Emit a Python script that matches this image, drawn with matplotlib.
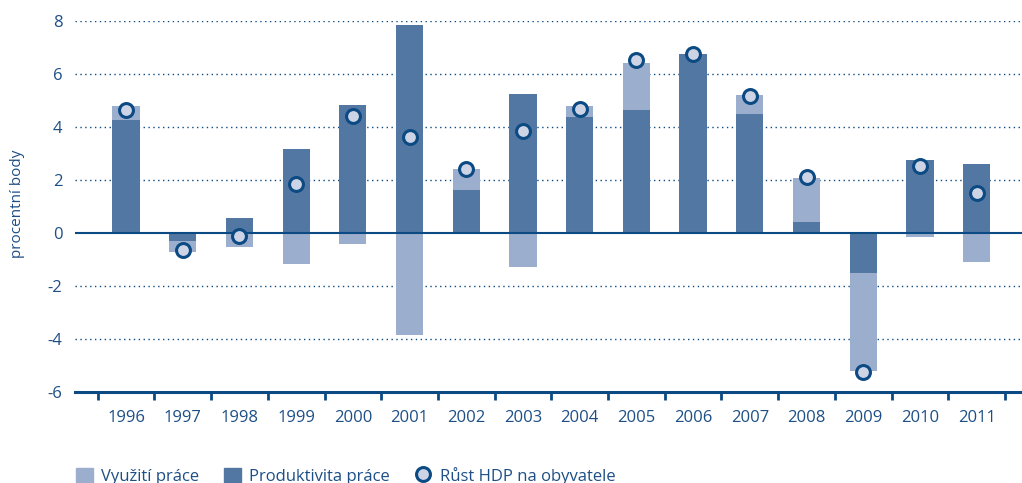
import matplotlib.pyplot as plt
import numpy as np
from matplotlib.patches import Patch
from matplotlib.lines import Line2D

plt.rcParams['font.family'] = ['Open Sans', 'DejaVu Sans']

years = ["1996", "1997", "1998", "1999", "2000", "2001", "2002", "2003",
         "2004", "2005", "2006", "2007", "2008", "2009", "2010", "2011"]
produktivita = [4.26, -0.32, 0.54, 3.15, 4.82, 7.86, 1.61, 5.23,
                4.38, 4.64, 6.76, 4.49, 0.40, -1.53, 2.75, 2.59]
vyuziti = [0.53, -0.41, -0.54, -1.18, -0.42, -3.88, 0.79, -1.29,
           0.41, 1.78, 0.0, 0.72, 1.66, -3.70, -0.16, -1.12]
hdp = [4.64, -0.64, -0.13, 1.85, 4.40, 3.63, 2.42, 3.86,
       4.68, 6.52, 6.76, 5.18, 2.11, -5.26, 2.52, 1.51]

light = "#9caecd"
dark = "#5377a3"
dot_fill = "#ccd4e5"
navy = "#0b4a82"
text_c = "#1d4f86"

x = np.arange(len(years))
prod = np.array(produktivita)
vyu = np.array(vyuziti)
# utilization stacks on productivity when both have the same sign
bottom = np.where(np.sign(prod) == np.sign(vyu), prod, 0)

fig = plt.figure(figsize=(10.22, 4.83), dpi=100)
ax = fig.add_axes([75/1022, 1 - 391.5/483, 1 - 75/1022, (391.5 - 21)/483])

ax.bar(x, prod, width=0.48, color=dark, zorder=2)
ax.bar(x, vyu, width=0.48, bottom=bottom, color=light, zorder=2)
ax.plot(x, hdp, "o", markersize=10, markerfacecolor=dot_fill,
        markeredgecolor=navy, markeredgewidth=2.2, zorder=4)

ax.set_xlim(-0.9, 15.8)
ax.set_ylim(-6, 8)
ax.set_yticks(np.arange(-6, 9, 2))
ax.set_yticklabels([str(v) for v in range(-6, 9, 2)])
for v in [-4, -2, 2, 4, 6, 8]:
    ax.axhline(v, color=navy, linestyle=(0, (1, 2.5)), linewidth=1.0, zorder=1)
ax.axhline(0, color=navy, linewidth=1.5, zorder=3)

ax.set_xticks(x)
ax.set_xticklabels(years)
ax.set_xticks(np.arange(-0.5, 16, 1), minor=True)
ax.tick_params(axis="x", which="major", length=0, pad=13, labelsize=12, labelcolor=text_c)
ax.tick_params(axis="x", which="minor", length=6, width=2, color=navy, direction="out")
ax.tick_params(axis="y", length=0, pad=9, labelsize=12, labelcolor=text_c)

for s in ["top", "right", "left"]:
    ax.spines[s].set_visible(False)
ax.spines["bottom"].set_color(navy)
ax.spines["bottom"].set_linewidth(2.2)
ax.spines["bottom"].set_zorder(5)

fig.text(18/1022, 1 - 204/483, "procentní body", rotation=90, ha="center", va="center",
         fontsize=11, color=text_c)

handles = [Patch(color=light, label="Využití práce"),
           Patch(color=dark, label="Produktivita práce"),
           Line2D([], [], marker="o", linestyle="none", markersize=10,
                  markerfacecolor=dot_fill, markeredgecolor=navy,
                  markeredgewidth=2.2, label="Růst HDP na obyvatele")]
leg = fig.legend(handles=handles, loc="lower left", bbox_to_anchor=(61/1022, -0.035),
                 ncol=3, frameon=False, fontsize=12, handlelength=1.0, handleheight=1.0,
                 columnspacing=1.5, handletextpad=0.5)
for t in leg.get_texts():
    t.set_color(text_c)

fig.savefig("out.png", dpi=100)
